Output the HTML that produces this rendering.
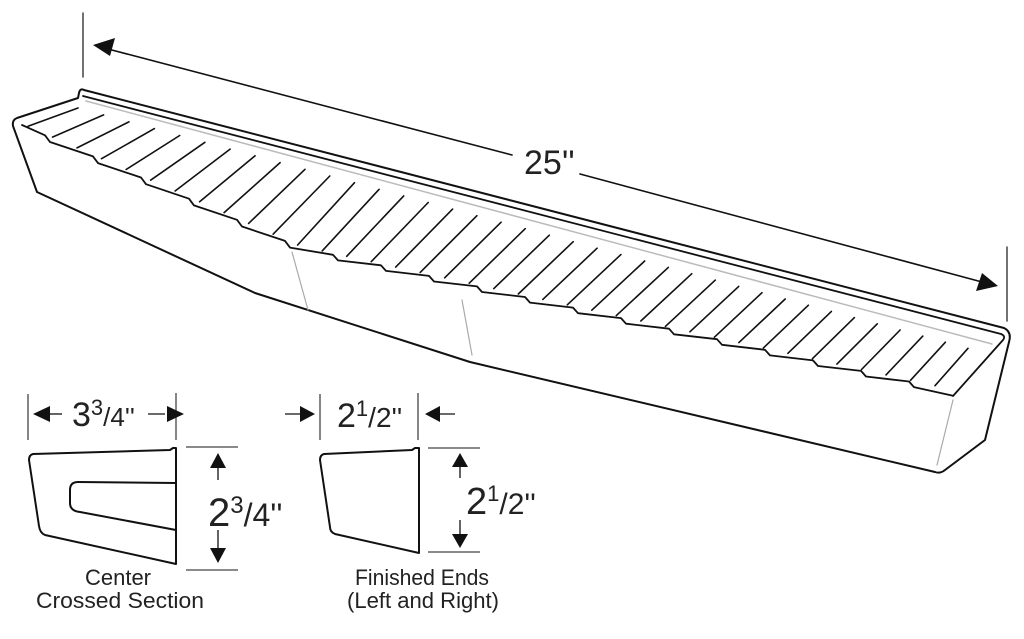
<!DOCTYPE html>
<html><head><meta charset="utf-8"><style>
html,body{margin:0;padding:0;background:#fff;width:1024px;height:639px;overflow:hidden}
svg{display:block}
text{font-family:"Liberation Sans",sans-serif;fill:#222}
</style></head><body>
<svg id="s" width="1024" height="639" viewBox="0 0 1024 639" xmlns="http://www.w3.org/2000/svg">
<g fill="none" stroke="#111" stroke-width="2" stroke-linejoin="round" stroke-linecap="round">
  <line x1="83" y1="13" x2="83" y2="77" stroke="#444" stroke-width="1.5"/>
  <line x1="1007" y1="247" x2="1007" y2="321" stroke="#444" stroke-width="1.5"/>
  <line x1="108" y1="49" x2="512" y2="155" stroke-width="1.6"/>
  <line x1="580" y1="174" x2="982" y2="282" stroke-width="1.6"/>
  <polygon points="93,45 115,38 110,56" fill="#111" stroke="none"/>
  <polygon points="998,286 976,291 982,273" fill="#111" stroke="none"/>
  <path d="M37,192 L255,293 L470,362 L935,472 Q940,474 945,470 L985,440 L1009,342 Q1012,332 1004,328 L84,90 Q80,88 79,93 L78,98 L17,118 Q12,120 13,126 Z"/>
  <path d="M83,96 L1001,334 Q1006,336 1003,340 L953,396" stroke-width="1.8"/>
  <path d="M86,101 L992,344" stroke="#bbb" stroke-width="1.5"/>
  <line x1="292" y1="252" x2="308" y2="310" stroke="#aaa" stroke-width="1.2"/>
  <line x1="462" y1="300" x2="472" y2="355" stroke="#aaa" stroke-width="1.2"/>
  <line x1="953" y1="400" x2="937" y2="465" stroke="#aaa" stroke-width="1.2"/>
  <g id="slats" stroke-width="1.6"></g>
  <path id="lip" stroke-width="1.8"/>
</g>
<text x="524" y="174" font-size="34">25''</text>

<g fill="none" stroke="#111" stroke-width="2" stroke-linejoin="round">
  <line x1="28" y1="394" x2="28" y2="440" stroke="#444" stroke-width="1.3"/>
  <line x1="176" y1="393" x2="176" y2="440" stroke="#444" stroke-width="1.3"/>
  <path d="M33,454 L170,450 L173,448 L176,448 L176,564 L45,535 Q40,533 39,526 L29,460 Q29,455 33,454 Z"/>
  <path d="M176,483 L78,482 Q70,482 70,490 L70,503 Q70,511 80,512 L176,530"/>
  <line x1="186" y1="447" x2="238" y2="447" stroke="#444" stroke-width="1.3"/>
  <line x1="186" y1="570" x2="238" y2="570" stroke="#444" stroke-width="1.3"/>
  <line x1="218" y1="465" x2="218" y2="480" stroke-width="1.3"/>
  <line x1="218" y1="530" x2="218" y2="552" stroke-width="1.3"/>
  <line x1="48" y1="414" x2="62" y2="414" stroke-width="1.3"/>
  <line x1="148" y1="414" x2="165" y2="414" stroke-width="1.3"/>
  <line x1="320" y1="394" x2="320" y2="440" stroke="#444" stroke-width="1.3"/>
  <line x1="418" y1="393" x2="418" y2="440" stroke="#444" stroke-width="1.3"/>
  <path d="M324,454 L412,450 L415,448 L419,448 L419,553 L335,534 Q330,532 330,527 L320,460 Q320,455 324,454 Z"/>
  <line x1="428" y1="448" x2="480" y2="448" stroke="#444" stroke-width="1.3"/>
  <line x1="428" y1="552" x2="480" y2="552" stroke="#444" stroke-width="1.3"/>
  <line x1="460" y1="465" x2="460" y2="478" stroke-width="1.3"/>
  <line x1="460" y1="520" x2="460" y2="538" stroke-width="1.3"/>
  <line x1="285" y1="414" x2="302" y2="414" stroke-width="1.3"/>
  <line x1="438" y1="414" x2="455" y2="414" stroke-width="1.3"/>
</g>
<g fill="#111">
  <polygon points="33,414 50,406 50,422"/>
  <polygon points="184,414 167,406 167,422"/>
  <polygon points="218,453 210,468 226,468"/>
  <polygon points="218,563 210,548 226,548"/>
  <polygon points="315,414 300,406 300,422"/>
  <polygon points="425,414 440,406 440,422"/>
  <polygon points="460,453 452,467 468,467"/>
  <polygon points="460,548 452,534 468,534"/>
</g>
<text x="72" y="426" font-size="34">3<tspan font-size="22" dy="-11">3</tspan><tspan font-size="26" dy="11">/4''</tspan></text>
<text x="208" y="526" font-size="40">2<tspan font-size="24" dy="-13">3</tspan><tspan font-size="32" dy="13">/4''</tspan></text>
<text x="337" y="427" font-size="34">2<tspan font-size="22" dy="-11">1</tspan><tspan font-size="28" dy="11">/2''</tspan></text>
<text x="466" y="514" font-size="38">2<tspan font-size="22" dy="-13">1</tspan><tspan font-size="30" dy="13">/2''</tspan></text>
<text x="118" y="585" font-size="22" text-anchor="middle">Center</text>
<text x="120" y="608" font-size="22" text-anchor="middle" textLength="168" lengthAdjust="spacingAndGlyphs">Crossed Section</text>
<text x="422" y="585" font-size="22" text-anchor="middle" textLength="134" lengthAdjust="spacingAndGlyphs">Finished Ends</text>
<text x="423" y="608" font-size="22" text-anchor="middle" textLength="152" lengthAdjust="spacingAndGlyphs">(Left and Right)</text>
</svg>
<script>
(function(){
var ns="http://www.w3.org/2000/svg";
function L(x){ return x<300 ? 128+(x-25)*0.44 : 249+(x-300)*0.22; }
var g=document.getElementById('slats');
var n=38, x0=28, x1=935;
for(var k=0;k<n;k++){
  var t=k/(n-1);
  var fx=x0+(x1-x0)*t, fy=L(fx)-3;
  var d=50+40*t-57*t*t;
  var bx=fx+d, by=108+(bx-78)*0.27;
  var l=document.createElementNS(ns,'line');
  l.setAttribute('x1',fx.toFixed(1));l.setAttribute('y1',fy.toFixed(1));
  l.setAttribute('x2',bx.toFixed(1));l.setAttribute('y2',by.toFixed(1));
  g.appendChild(l);
}
var p="M22,125";
for(var x=45;x<950;x+=48){
  p+=" L"+x+","+(L(x)-1.5).toFixed(1)+" L"+(x+5)+","+(L(x+5)+3).toFixed(1);
}
p+=" L953,"+(L(953)+3).toFixed(1);
document.getElementById('lip').setAttribute('d',p);
})();
</script>
</body></html>
